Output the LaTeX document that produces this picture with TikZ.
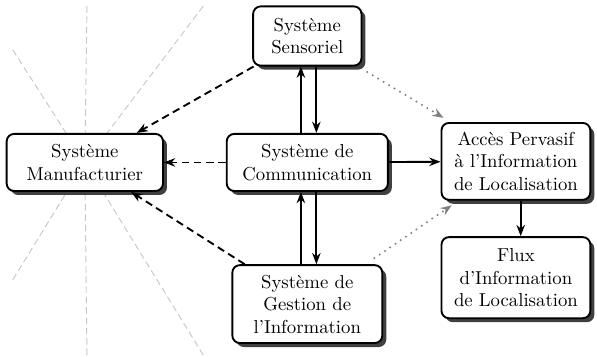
\documentclass[tikz,border=0pt]{standalone}
\usetikzlibrary{shadows,arrows.meta}
\begin{document}
\begin{tikzpicture}[box/.style={rectangle, rounded corners=4pt, draw, line width=1pt, fill=white, align=center, inner sep=2pt, drop shadow={fill=black!75, opacity=1, shadow xshift=0.075cm, shadow yshift=-0.075cm}},
		ray/.style={-{Stealth[length=4pt, width=3pt]}, black!22, line width=0.5pt, dash pattern=on 3.5pt off 2pt, shorten >=3pt},
		link/.style={->, line width=1pt},
		weak/.style={->, line width=1pt, dash pattern=on 4pt off 2.5pt},
		hint/.style={->, gray, line width=1.2pt, line cap=round, dash pattern=on 0pt off 3.4pt, shorten <=0.2cm, shorten >=0.15cm},
		>={Stealth[length=6pt, width=4.5pt]}]
		\useasboundingbox (0,0) rectangle (11.19,6.675);
		% rays into the manufacturing system
		\coordinate (m) at (1.59,3.63);
		\foreach \p in {(0.24,5.74), (1.63,6.56), (3.81,6.56), (0.24,1.43), (1.63,0.02), (3.81,0.02)}
			\draw[ray] \p -- (m);
		\node[box, minimum width=2.03cm, minimum height=1.11cm] (sens) at (5.76, 6.0) {Système\\Sensoriel};
		\node[box, minimum width=2.93cm, minimum height=1.07cm] (manu) at (m) {Système\\Manufacturier};
		\node[box, minimum width=3.02cm, minimum height=1.07cm] (comm) at (5.76, 3.63) {Système de\\Communication};
		\node[box, minimum width=2.79cm, minimum height=1.44cm] (acces) at (9.67, 3.65) {Accès Pervasif\\à l'Information\\de Localisation};
		\node[box, minimum width=2.79cm, minimum height=1.52cm] (flux) at (9.67, 1.47) {Flux\\d'Information\\de Localisation};
		\node[box, minimum width=2.81cm, minimum height=1.46cm] (gest) at (5.76, 0.975) {Système de\\Gestion de\\l'Information};
		\draw[link] ([xshift=-0.12cm]comm.north) -- ([xshift=-0.12cm]sens.south);
		\draw[link] ([xshift=0.17cm]sens.south) -- ([xshift=0.17cm]comm.north);
		\draw[link] ([xshift=-0.12cm]gest.north) -- ([xshift=-0.12cm]comm.south);
		\draw[link] ([xshift=0.17cm]comm.south) -- ([xshift=0.17cm]gest.north);
		\draw[link] (comm) -- (acces);
		\draw[link] ([xshift=0.09cm]acces.south) -- ([xshift=0.09cm]flux.north);
		\draw[weak] (sens) -- (manu);
		\draw[weak] (comm) -- (manu);
		\draw[weak] (gest) -- (manu);
		\draw[hint] (sens) -- (acces);
		\draw[hint] (gest) -- (acces);
	\end{tikzpicture}
\end{document}
